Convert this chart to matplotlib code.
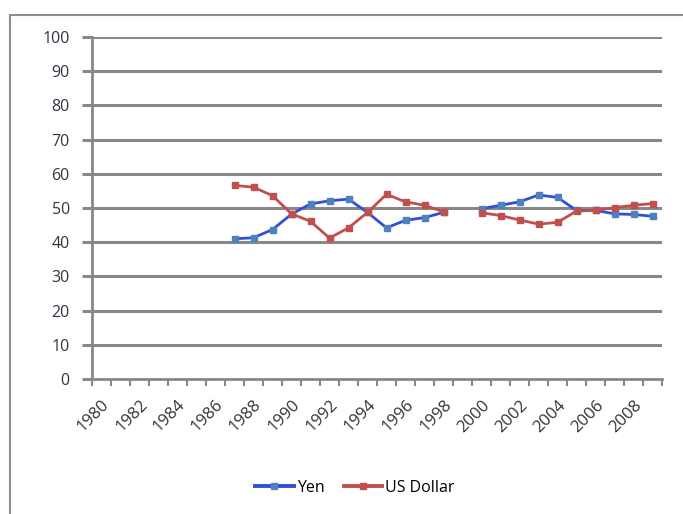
import numpy as np
import matplotlib
matplotlib.use("Agg")
import matplotlib.pyplot as plt
from matplotlib.patches import Rectangle

years = list(range(1980, 2010))
nan = np.nan
yen = [nan]*7 + [41.0, 41.3, 43.7, 48.2, 51.2, 52.1, 52.6, 48.7, 44.2, 46.4, 47.2, 48.7, nan,
                 49.8, 50.8, 51.8, 53.8, 53.1, 49.3, 49.3, 48.3, 48.1, 47.6]
usd = [nan]*7 + [56.6, 56.1, 53.6, 48.3, 46.1, 41.2, 44.2, 48.7, 54.0, 51.8, 50.8, 48.9, nan,
                 48.6, 47.8, 46.5, 45.3, 45.8, 49.1, 49.3, 50.1, 50.8, 51.3]
yticks = list(range(0, 101, 10))
xlabels = [str(y) for y in years[::2]]

plt.rcParams['font.family'] = ['Open Sans', 'DejaVu Sans']

fig = plt.figure(figsize=(6.83, 5.14), dpi=100)
fig.patches.append(Rectangle((10/683, -0.1), 1.2, 1 - 15/514 + 0.1, transform=fig.transFigure,
                             fill=False, edgecolor='#8c8c8c', linewidth=1.5))
ax = fig.add_axes([92/683, 1 - 379/514, 570/683, 342/514])

x = np.arange(len(years))
ax.plot(x, yen, color='#2f4fd8', linewidth=2, marker='s', markersize=5,
        markerfacecolor='#4f81bd', markeredgecolor='#4f81bd', label='Yen')
ax.plot(x, usd, color='#c0504d', linewidth=2, marker='s', markersize=5,
        markerfacecolor='#c0504d', markeredgecolor='#c0504d', label='US Dollar')

ax.set_xlim(-0.5, len(years) - 0.5)
ax.set_ylim(0, 100)
ax.set_yticks(yticks)
ax.set_yticklabels([str(v) for v in yticks], fontsize=11.5, color='#333344')
for v in yticks[1:]:
    ax.axhline(v, color='#888888', linewidth=2.2, zorder=0)

ax.set_xticks(x[::2])
ax.set_xticklabels(xlabels, rotation=45, ha='right', rotation_mode='anchor',
                   fontsize=12, color='#333333')
ax.tick_params(axis='x', which='major', length=0, pad=13)
ax.set_xticks(np.arange(-0.5, len(years), 1.0), minor=True)
ax.tick_params(axis='x', which='minor', length=5, width=1.5, color='#888888', direction='out')
ax.tick_params(axis='y', length=7, width=2.2, color='#888888', direction='out', pad=9)

for s in ['top', 'right']:
    ax.spines[s].set_visible(False)
for s in ['left', 'bottom']:
    ax.spines[s].set_color('#888888')
    ax.spines[s].set_linewidth(2)

leg = fig.legend(loc='center', bbox_to_anchor=(355/683, 1 - 488/514), ncol=2, frameon=False,
                 fontsize=11.5, handlelength=2.4, columnspacing=1.2, handletextpad=0.2)
for h in leg.legend_handles:
    h.set_linewidth(2.8)

fig.savefig('out.png', dpi=100)
